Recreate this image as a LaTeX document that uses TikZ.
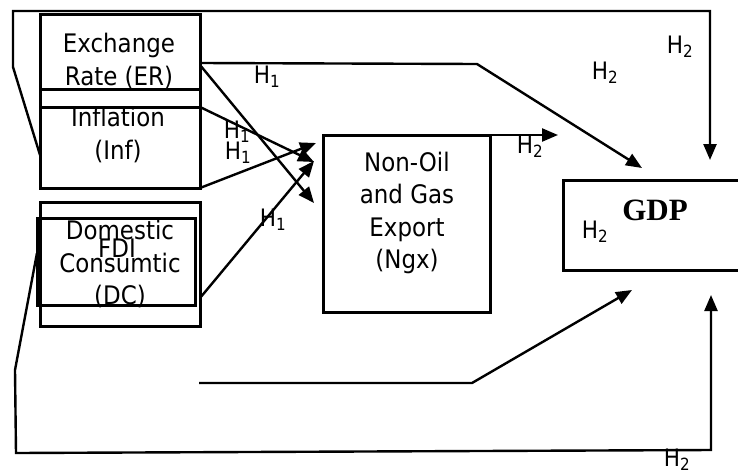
\documentclass[tikz,border=0pt]{standalone}
\usepackage{fontspec}
\setmainfont{DejaVu Sans Condensed}
\newfontfamily\gdpfont{Liberation Serif}
\usetikzlibrary{arrows.meta}
\begin{document}
\begin{tikzpicture}[x=1pt,y=-1pt,>={Triangle[length=16pt,width=13pt]},line width=2.4pt,
    box/.style={draw,line width=3pt,inner sep=0pt,outer sep=0pt},
    txt/.style={align=center,inner sep=0pt,font=\fontsize{25.5}{32.5}\selectfont},
    hyp/.style={inner sep=0pt,font=\fontsize{24}{28}\selectfont}]
    \useasboundingbox (0,0) rectangle (738,474);
    % boxes
    \node[box,minimum width=160pt,minimum height=75pt] (er) at (120,51.5) {};
    \node[box,minimum width=160pt,minimum height=81pt] (inf) at (120,147.5) {};
    \draw[line width=3pt] (er.south west) -- (inf.north west) (er.south east) -- (inf.north east);
    \node[box,minimum width=160pt,minimum height=124pt] (dc) at (120,264) {};
    \node[box,minimum width=158pt,minimum height=87pt] (fdi) at (116,261.5) {};
    \node[box,minimum width=167pt,minimum height=177pt] (ngx) at (406.5,223.5) {};
    \node[box,minimum width=182pt,minimum height=90pt] (gdp) at (654,225) {};
    % texts
    \node[txt] (ertxt) at (119,61) {Exchange\\Rate (ER)};
    \node[txt] (inftxt) at (118,135) {Inflation\\(Inf)};
    \node[txt] (dctxt) at (120,264) {Domestic\\Consumtic\\(DC)};
    \node[txt] (fditxt) at (117,248) {FDI};
    \node[txt] (ngxtxt) at (407,213) {Non-Oil\\and Gas\\Export\\(Ngx)};
    \node[inner sep=0pt,font=\gdpfont\bfseries\fontsize{31}{32}\selectfont] (gdptxt) at (655,210) {GDP};
    % arrow ends
    \coordinate (gdptop) at (710,160);
    \coordinate (gdpleft) at (642,168);
    \coordinate (gdplow) at (632,290);
    \coordinate (gdpbase) at (711,295);
    \coordinate (ngxout) at (558,135);
    \coordinate (ngxa) at (314,203);
    \coordinate (ngxb) at (314,162);
    \coordinate (ngxc) at (316,143);
    \coordinate (ngxd) at (314,161);
    \coordinate (base) at (199,383);
    % connectors
    \draw[->] (inf.west |- 0,155) -- (13,67) -- (13,11) -- (710,11) -- (gdptop);
    \draw[->] (er.east |- 0,63) -- (477,64) -- (gdpleft);
    \draw[->] (er.east |- 0,65) -- (ngxa);
    \draw[->] (inf.north east) -- (ngxb);
    \draw[->] (inf.south east) -- (ngxc);
    \draw[->] (dc.east |- 0,298) -- (ngxd);
    \draw[->] (ngx.north east) -- (ngxout);
    \draw[->] (fdi.west |- 0,253) -- (15,370) -- (16,453) -- (711,450) -- (gdpbase);
    \draw[->] (base) -- (472,383) -- (gdplow);
    % labels
    \node[hyp] (h1a) at (267,77) {H\textsubscript{1}};
    \node[hyp] (h1b) at (237,132) {H\textsubscript{1}};
    \node[hyp] (h1c) at (238,153) {H\textsubscript{1}};
    \node[hyp] (h1d) at (273,220) {H\textsubscript{1}};
    \node[hyp] (h2a) at (680,47) {H\textsubscript{2}};
    \node[hyp] (h2b) at (605,73) {H\textsubscript{2}};
    \node[hyp] (h2c) at (530,147) {H\textsubscript{2}};
    \node[hyp] (h2d) at (595,232) {H\textsubscript{2}};
    \node[hyp] (h2e) at (677,460) {H\textsubscript{2}};
\end{tikzpicture}
\end{document}
